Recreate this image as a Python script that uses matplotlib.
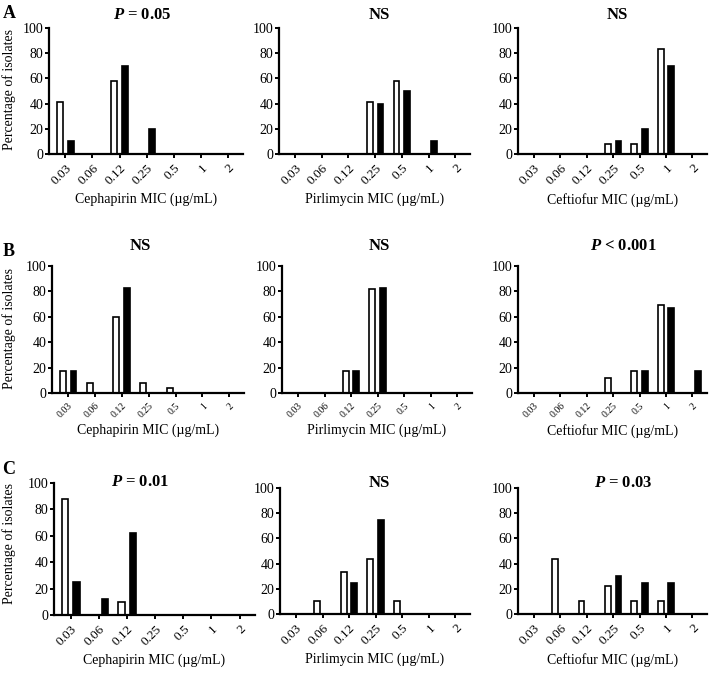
import numpy as np
from matplotlib import pyplot as plt

plt.rcParams['font.family'] = ['Liberation Serif', 'DejaVu Serif']
plt.rcParams['mathtext.fontset'] = 'custom'
plt.rcParams['mathtext.bfit'] = 'Liberation Serif:italic:bold'
plt.rcParams['mathtext.rm'] = 'Liberation Serif'

mic = ['0.03', '0.06', '0.12', '0.25', '0.5', '1', '2']
drugs = ['Cephapirin', 'Pirlimycin', 'Ceftiofur']
letters = ['A', 'B', 'C']

# open (white) and filled (black) bars, per row: Cephapirin, Pirlimycin, Ceftiofur
a_open = [[41, 0, 58, 0, 0, 0, 0], [0, 0, 0, 41, 58, 0, 0], [0, 0, 0, 8, 8, 83, 0]]
a_fill = [[10, 0, 70, 20, 0, 0, 0], [0, 0, 0, 40, 50, 10, 0], [0, 0, 0, 10, 20, 70, 0]]
b_open = [[17, 8, 60, 8, 4, 0, 0], [0, 0, 17, 82, 0, 0, 0], [0, 0, 0, 12, 17, 69, 0]]
b_fill = [[17, 0, 83, 0, 0, 0, 0], [0, 0, 17, 83, 0, 0, 0], [0, 0, 0, 0, 17, 67, 17]]
c_open = [[88, 0, 10, 0, 0, 0, 0], [0, 10, 33, 44, 10, 0, 0], [0, 44, 10, 22, 10, 10, 0]]
c_fill = [[25, 12.5, 62.5, 0, 0, 0, 0], [0, 0, 25, 75, 0, 0, 0], [0, 0, 0, 30, 25, 25, 0]]

titles = [[r'$\mathbfit{P}$ = 0.05', 'NS', 'NS'],
          ['NS', 'NS', r'$\mathbfit{P}$ < 0.001'],
          [r'$\mathbfit{P}$ = 0.01', 'NS', r'$\mathbfit{P}$ = 0.03']]

W, H = 710, 673
fig = plt.figure(figsize=(W / 100, H / 100), dpi=100)

# panel boxes in pixels: left, top, right, bottom
boxes = [[(49, 28, 243, 154), (279, 28, 470, 154), (518, 28, 707, 154)],
         [(52, 266, 244, 393), (282, 266, 472, 393), (518, 266, 707, 393)],
         [(54, 483, 255, 615), (280, 488, 470, 614), (518, 488, 707, 614)]]
title_pos = [[(142, 15), (379, 15), (617, 15)],
             [(140, 246), (379, 246), (623, 246)],
             [(140, 482), (379, 483), (623, 483)]]
letter_pos = [(9, 14), (9, 251), (9, 469)]
ylab_pos = [(9, 89), (9, 328), (9, 543)]

opens = [a_open, b_open, c_open]
fills = [a_fill, b_fill, c_fill]
x = np.arange(len(mic))

for r in range(3):
    for c in range(3):
        l, t, rr, b = boxes[r][c]
        ax = fig.add_axes([l / W, 1 - b / H, (rr - l) / W, (b - t) / H])
        ax.bar(x - 0.2, opens[r][c], 0.22, color='white', edgecolor='black', linewidth=1.2)
        ax.bar(x + 0.2, fills[r][c], 0.22, color='black', edgecolor='black', linewidth=1.2)
        ax.set_xlim(-0.6, 6.55)
        ax.set_ylim(0, 100)
        ax.set_yticks([0, 20, 40, 60, 80, 100])
        ax.set_xticks(x)
        ax.set_xticklabels(mic, rotation=45, ha='right', rotation_mode='anchor',
                           fontsize=7 if r == 1 else 9.5)
        ax.tick_params(axis='y', labelsize=10, length=3, width=1.4, pad=1)
        ax.tick_params(axis='x', length=3, width=1.4, pad=3)
        for s in ['top', 'right']:
            ax.spines[s].set_visible(False)
        for s in ['left', 'bottom']:
            ax.spines[s].set_linewidth(1.6)
        ax.set_xlabel(drugs[c] + ' MIC (\u00b5g/mL)', fontsize=10,
                      labelpad=4 if r != 1 else 3)
        tx, ty = title_pos[r][c]
        fig.text(tx / W, 1 - ty / H, titles[r][c], fontsize=12, fontweight='bold',
                 ha='center', va='center')
    lx, ly = letter_pos[r]
    fig.text(lx / W, 1 - ly / H, letters[r], fontsize=13, fontweight='bold',
             ha='center', va='center')
    yx, yy = ylab_pos[r]
    fig.text(yx / W, 1 - yy / H, 'Percentage of isolates', fontsize=10,
             rotation=90, ha='center', va='center')

plt.savefig('out.png', dpi=100)
